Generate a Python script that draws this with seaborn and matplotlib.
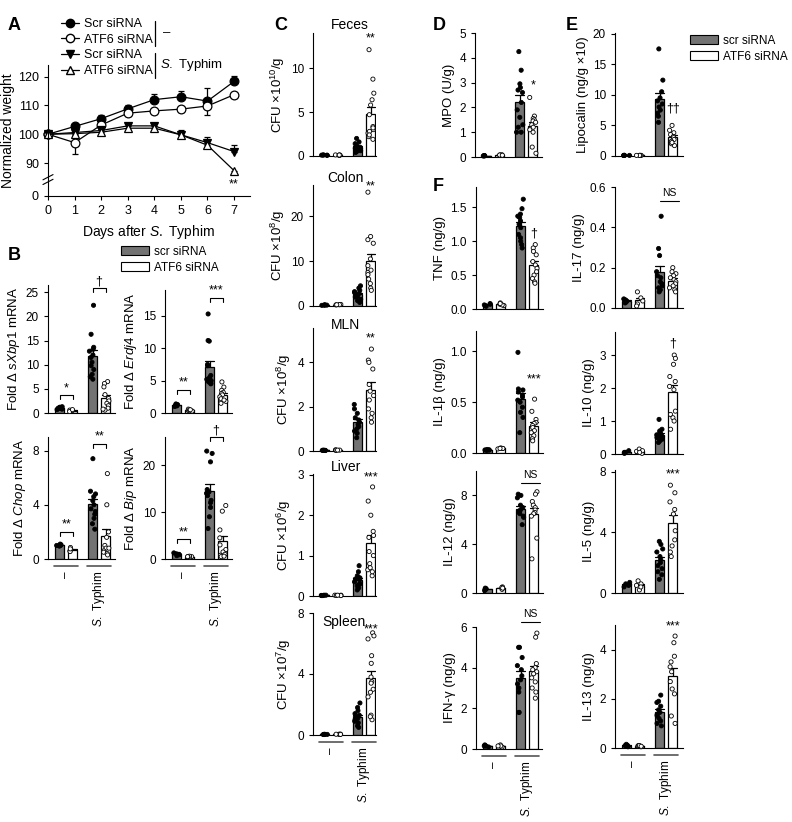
import numpy as np
import pandas as pd
import matplotlib
matplotlib.use('Agg')
import matplotlib.pyplot as plt
import seaborn as sns
from matplotlib.lines import Line2D
from matplotlib.patches import Patch
from matplotlib.transforms import blended_transform_factory

# ---------------- DATA ----------------
# Panel A: body weight over days
days = [0, 1, 2, 3, 4, 5, 6, 7]
scr_ctrl_w = [100, 102.7, 105.4, 108.8, 112.0, 113.0, 111.5, 118.3]
scr_ctrl_err = [0.5, 1.0, 1.2, 1.5, 2.0, 2.0, 4.5, 2.0]
atf6_ctrl_w = [100, 97.1, 103.2, 107.3, 108.1, 108.7, 109.8, 113.7]
atf6_ctrl_err = [0.5, 4.0, 1.5, 1.0, 1.0, 1.0, 3.3, 1.0]
scr_st_w = [100, 100.6, 101.3, 102.9, 102.9, 99.8, 97.1, 94.0]
scr_st_err = [0.5, 0.8, 0.8, 1.0, 1.0, 1.5, 2.0, 2.2]
atf6_st_w = [100, 100.2, 100.7, 102.1, 102.1, 99.8, 96.2, 87.4]
atf6_st_err = [0.5, 0.5, 0.5, 0.8, 0.8, 1.0, 1.0, 1.0]

# bar panels: [scr -, ATF6 -, scr S.Typhim, ATF6 S.Typhim]
sxbp1 = [[1.2, 0.9, 1.0, 1.1, 0.8, 1.3, 0.7], [0.4, 0.6, 0.5, 0.3, 0.7],
         [22.3, 16.3, 13.6, 13.2, 12.8, 12.0, 11.5, 10.5, 9.8, 9.0, 8.0, 7.5, 7.0],
         [6.5, 6.1, 5.4, 3.8, 3.0, 2.5, 2.0, 1.5, 1.0, 0.6, 0.8]]
erdj4 = [[1.3, 1.1, 1.2, 1.0, 1.4, 1.2], [0.4, 0.6, 0.5, 0.3, 0.5],
         [15.3, 11.2, 11.1, 7.3, 7.5, 5.5, 5.2, 5.0, 4.8, 4.6, 5.0, 5.8, 4.5],
         [4.8, 4.0, 3.5, 3.2, 3.0, 2.8, 2.5, 2.2, 1.8, 1.5, 2.0]]
chop = [[1.0, 1.05, 0.95, 1.1, 1.0], [0.6, 0.7, 0.85, 0.55, 0.75],
        [7.4, 5.0, 4.8, 4.6, 4.3, 4.0, 3.7, 3.5, 3.3, 3.0, 2.6, 2.2],
        [6.3, 4.0, 2.0, 1.6, 1.0, 0.8, 0.6, 0.5, 0.4, 0.3, 0.8]]
bip = [[1.0, 0.7, 1.3, 1.1, 0.9], [0.5, 0.4, 0.6, 0.5, 0.5],
       [23.0, 22.5, 20.7, 14.8, 14.3, 14.0, 13.5, 12.5, 11.0, 9.0, 6.5, 12.0],
       [11.4, 10.2, 6.2, 4.5, 3.0, 2.0, 1.5, 1.0, 0.8, 0.5, 0.6]]

feces = [[0.08, 0.12, 0.1, 0.09, 0.11], [0.1, 0.12, 0.08, 0.1, 0.11],
         [2.0, 1.6, 1.4, 1.2, 1.1, 1.0, 0.9, 0.8, 0.7, 0.6, 0.5, 0.4],
         [12.1, 8.75, 7.15, 6.4, 5.8, 4.7, 3.35, 3.0, 2.6, 2.2, 1.9, 3.2, 2.8, 2.4]]
colon = [[0.2, 0.25, 0.15, 0.2, 0.22], [0.3, 0.25, 0.35, 0.3, 0.28],
         [4.5, 4.0, 3.5, 3.2, 3.0, 2.8, 2.5, 2.2, 2.0, 1.5, 1.2, 0.8],
         [25.4, 15.5, 14.8, 14.0, 10.5, 9.0, 7.5, 8.0, 7.0, 6.0, 5.0, 4.0, 3.5]]
mln = [[0.03, 0.04, 0.02, 0.03, 0.03], [0.04, 0.05, 0.03, 0.04, 0.04],
       [2.1, 1.9, 1.7, 1.5, 1.4, 1.3, 1.2, 1.1, 1.0, 0.9, 0.8, 0.6],
       [4.6, 4.1, 4.0, 3.7, 3.0, 2.7, 2.5, 2.3, 1.9, 1.7, 1.5, 1.3]]
liver = [[0.01, 0.02, 0.015, 0.01, 0.02], [0.02, 0.015, 0.02, 0.01, 0.02],
         [0.75, 0.6, 0.5, 0.45, 0.42, 0.4, 0.35, 0.3, 0.28, 0.25, 0.2, 0.15],
         [2.7, 2.35, 2.0, 1.6, 1.5, 1.45, 1.1, 1.0, 0.8, 0.65, 0.5, 0.7, 0.6]]
spleen = [[0.03, 0.05, 0.04, 0.03, 0.04], [0.05, 0.04, 0.06, 0.05, 0.04],
          [2.1, 1.8, 1.6, 1.4, 1.3, 1.2, 1.1, 1.0, 0.9, 0.8, 0.6, 0.5],
          [6.7, 6.5, 6.3, 5.2, 4.7, 3.5, 3.8, 3.4, 3.0, 2.8, 1.3, 1.0, 2.5, 1.2]]

mpo = [[0.05, 0.06, 0.04, 0.05, 0.05], [0.08, 0.07, 0.09, 0.08, 0.07],
       [4.25, 3.5, 2.95, 2.8, 2.7, 2.6, 2.2, 1.9, 1.6, 1.3, 1.0, 1.2, 1.0],
       [2.4, 1.65, 1.55, 1.5, 1.45, 1.4, 1.3, 1.2, 1.1, 1.0, 0.4, 0.15]]
lipocalin = [[0.1, 0.12, 0.08, 0.1, 0.1], [0.1, 0.08, 0.12, 0.1, 0.1],
             [17.5, 12.4, 10.5, 9.5, 9.0, 8.5, 8.0, 7.5, 7.0, 6.5, 5.5],
             [5.0, 4.2, 3.8, 3.5, 3.2, 3.0, 2.7, 2.4, 2.0, 1.7, 2.2]]

tnf = [[0.05, 0.07, 0.06, 0.08, 0.04], [0.07, 0.05, 0.09, 0.06, 0.08],
       [1.62, 1.48, 1.40, 1.37, 1.35, 1.3, 1.25, 1.2, 1.1, 1.05, 1.0, 0.95, 0.9],
       [0.95, 0.9, 0.85, 0.8, 0.7, 0.65, 0.6, 0.55, 0.5, 0.45, 0.4, 0.38]]
il17 = [[0.035, 0.04, 0.03, 0.045, 0.025], [0.08, 0.05, 0.035, 0.02, 0.01],
        [0.455, 0.295, 0.26, 0.18, 0.16, 0.15, 0.13, 0.12, 0.11, 0.1, 0.09, 0.08],
        [0.2, 0.18, 0.17, 0.16, 0.15, 0.14, 0.13, 0.12, 0.11, 0.1, 0.09, 0.08]]
il1b = [[0.03, 0.035, 0.025, 0.03, 0.03], [0.045, 0.05, 0.04, 0.045, 0.045],
        [0.99, 0.63, 0.62, 0.6, 0.57, 0.55, 0.52, 0.5, 0.45, 0.4, 0.35, 0.2],
        [0.53, 0.41, 0.33, 0.3, 0.29, 0.27, 0.25, 0.22, 0.2, 0.17, 0.14, 0.12]]
il10 = [[0.05, 0.1, 0.02, 0.04, 0.05], [0.08, 0.15, 0.02, 0.1, 0.05],
        [1.05, 0.75, 0.7, 0.65, 0.62, 0.58, 0.55, 0.5, 0.48, 0.45, 0.4, 0.35],
        [3.0, 2.9, 2.72, 2.35, 2.2, 2.05, 1.95, 1.3, 1.2, 1.1, 1.0, 0.75]]
il12 = [[0.3, 0.2, 0.4, 0.3, 0.35], [0.4, 0.3, 0.5, 0.45, 0.4],
        [8.1, 8.0, 7.8, 7.2, 7.0, 6.8, 6.7, 6.6, 6.5, 6.3, 6.2, 5.6],
        [8.3, 8.1, 7.5, 7.2, 7.0, 6.8, 6.6, 6.5, 6.3, 4.5, 2.8]]
il5 = [[0.55, 0.4, 0.7, 0.6, 0.5], [0.5, 0.2, 0.8, 0.6, 0.4],
       [3.4, 3.2, 2.9, 2.7, 2.4, 2.2, 2.0, 1.8, 1.6, 1.4, 1.2, 0.9],
       [7.1, 6.6, 6.0, 5.5, 5.2, 4.1, 3.5, 3.1, 2.7, 2.4]]
ifng = [[0.15, 0.1, 0.2, 0.15, 0.15], [0.15, 0.1, 0.2, 0.15, 0.15],
        [5.0, 5.0, 4.5, 4.1, 3.9, 3.6, 3.4, 3.2, 3.0, 2.8, 1.8, 1.8],
        [5.7, 5.5, 4.2, 4.0, 3.9, 3.8, 3.7, 3.5, 3.3, 3.0, 2.8, 2.5]]
il13 = [[0.1, 0.15, 0.05, 0.1, 0.1], [0.08, 0.1, 0.05, 0.1, 0.07],
        [2.15, 1.9, 1.85, 1.7, 1.55, 1.45, 1.35, 1.3, 1.2, 1.1, 1.0, 0.9],
        [4.55, 4.28, 3.73, 3.5, 3.3, 3.1, 2.7, 2.4, 2.2, 1.3, 1.0]]

groups = ['–', 'S. Typhim']
sirna = ['scr siRNA', 'ATF6 siRNA']
bar_colors = ['#737373', 'white']

# ---------------- STYLE ----------------
sns.set_style('ticks')
plt.rcParams['font.family'] = ['Liberation Sans', 'DejaVu Sans']
plt.rcParams['mathtext.fontset'] = 'custom'
plt.rcParams['mathtext.rm'] = 'Liberation Sans'
plt.rcParams['mathtext.it'] = 'Liberation Sans:italic'
plt.rcParams['mathtext.bf'] = 'Liberation Sans:bold'
plt.rcParams['axes.edgecolor'] = 'black'
plt.rcParams['axes.linewidth'] = 0.8
plt.rcParams['text.color'] = 'black'
plt.rcParams['axes.labelcolor'] = 'black'
plt.rcParams['xtick.color'] = 'black'
plt.rcParams['ytick.color'] = 'black'
plt.rcParams['ytick.major.size'] = 3
plt.rcParams['ytick.major.width'] = 0.8
plt.rcParams['xtick.major.size'] = 3
plt.rcParams['xtick.major.width'] = 0.8
plt.rcParams['ytick.labelsize'] = 8.5
plt.rcParams['xtick.labelsize'] = 8.5
plt.rcParams['axes.labelsize'] = 9.5

np.random.seed(3)
W, H = 792, 822
fig = plt.figure(figsize=(W / 100, H / 100), dpi=100)
ST = r'$\mathit{S.}$ Typhim'


def add_ax(l, t, r, b):
    return fig.add_axes([l / W, 1 - b / H, (r - l) / W, (b - t) / H])


def to_long(vals):
    rows = []
    for i, v in enumerate(vals):
        for y in v:
            rows.append((groups[i // 2], sirna[i % 2], y))
    return pd.DataFrame(rows, columns=['group', 'siRNA', 'value'])


def bar_panel(box, vals, ylim, yticks, ylabel):
    ax = add_ax(*box)
    df = to_long(vals)
    sns.barplot(data=df, x='group', y='value', hue='siRNA', order=groups, hue_order=sirna,
                palette=bar_colors, edgecolor='black', linewidth=0.9, width=0.8, gap=0.32,
                errorbar='se', capsize=0.5, err_kws={'linewidth': 0.9, 'color': 'black'},
                legend=False, ax=ax)
    sns.stripplot(data=df, x='group', y='value', hue='siRNA', order=groups, hue_order=sirna,
                  palette=['black', 'white'], edgecolor='black', linewidth=0.6, size=3.0,
                  dodge=True, jitter=0.2, legend=False, ax=ax)
    for p in ax.patches:
        p.set_zorder(2)
    for ln in ax.lines:
        ln.set_zorder(1.5)
    for c in ax.collections:
        c.set_zorder(3)
        c.set_clip_on(False)
    ax.set_xlim(-0.55, -0.55 + (box[2] - box[0]) / 33)
    ax.set_ylim(*ylim)
    ax.set_yticks(yticks)
    ax.set_xticks([])
    ax.set_xlabel('')
    ax.set_ylabel(ylabel, labelpad=3)
    sns.despine(ax=ax)
    return ax


def px(ax, n):
    y0, y1 = ax.get_ylim()
    return n * (y1 - y0) / ax.get_window_extent().height


def bracket(ax, x1, x2, y, label, fs=9):
    d = px(ax, 4)
    ax.plot([x1, x1, x2, x2], [y - d, y, y, y - d], color='black', lw=0.8, clip_on=False)
    ax.text((x1 + x2) / 2, y + px(ax, 1), label, ha='center', va='bottom', fontsize=fs)


def star(ax, y, label, fs=9):
    ax.text(1.2, y, label, ha='center', va='center', fontsize=fs)


def ns_line(ax, y):
    ax.plot([0.82, 1.38], [y, y], color='black', lw=0.8, clip_on=False)
    ax.text(1.1, y + px(ax, 3), 'NS', ha='center', va='bottom', fontsize=7.5)


def group_labels(ax):
    trans = blended_transform_factory(ax.transData, ax.transAxes)
    hpx = ax.get_window_extent().height
    for xc, lab in zip([0, 1], ['–', ST]):
        ax.plot([xc - 0.37, xc + 0.37], [-7 / hpx, -7 / hpx], color='#555555', lw=1.2,
                transform=trans, clip_on=False)
        ax.text(xc, -12 / hpx, lab, rotation=90, ha='center', va='top', transform=trans,
                fontsize=8.5)


def letter(x, y, s):
    fig.text(x / W, 1 - y / H, s, fontsize=13, fontweight='bold', ha='left', va='center')


def ftext(x, y, s, **kw):
    fig.text(x / W, 1 - y / H, s, **kw)


# ---------------- PANEL A ----------------
axA = add_ax(48, 65, 250, 196)
rows = []
series = ['scr_ctrl', 'atf6_ctrl', 'scr_st', 'atf6_st']
for name, vals in zip(series, [scr_ctrl_w, atf6_ctrl_w, scr_st_w, atf6_st_w]):
    for d, v in zip(days, vals):
        rows.append((name, d, v))
dfA = pd.DataFrame(rows, columns=['series', 'day', 'weight'])

errs = [scr_ctrl_err, atf6_ctrl_err, scr_st_err, atf6_st_err]
vals_all = [scr_ctrl_w, atf6_ctrl_w, scr_st_w, atf6_st_w]
up = [True, False, True, False]
for v, e, u in zip(vals_all, errs, up):
    e = np.array(e)
    z = np.zeros_like(e)
    axA.errorbar(days, v, yerr=[z, e] if u else [e, z], fmt='none', ecolor='black',
                 elinewidth=0.9, capsize=2.5, capthick=0.9, zorder=1.5)

sns.lineplot(data=dfA, x='day', y='weight', hue='series', style='series', hue_order=series,
             style_order=series, palette=['black'] * 4, markers=['o', 'o', 'v', '^'],
             dashes=False, markersize=6.3, linewidth=0.9, legend=False, estimator=None, ax=axA)
mfc = ['black', 'white', 'black', 'white']
for ln, fc in zip(axA.lines[-4:], mfc):
    ln.set_markerfacecolor(fc)
    ln.set_markeredgecolor('black')
    ln.set_markeredgewidth(0.9)
    ln.set_zorder(2.5)
    ln.set_clip_on(False)

axA.set_xlim(0, 7.6)
axA.set_ylim(78.6, 124)
axA.set_xticks(days)
axA.set_yticks([78.6, 90, 100, 110, 120])
axA.set_yticklabels(['0', '90', '100', '110', '120'])
axA.set_xlabel('Days after ' + ST, fontsize=10, labelpad=4)
axA.set_ylabel('Normalized weight', fontsize=10, labelpad=2)
axA.tick_params(labelsize=9)
sns.despine(ax=axA)
axA.text(7, 82.6, '**', ha='center', va='center', fontsize=9)
fb = (84.3 - 78.6) / (124 - 78.6)
for off in (-0.018, 0.018):
    axA.plot([-0.025, 0.025], [fb + off - 0.02, fb + off + 0.02], color='black', lw=0.8,
             transform=axA.transAxes, clip_on=False)

handlesA = [Line2D([0], [0], color='black', lw=0.9, marker=m, mfc=fc, mec='black', ms=6)
            for m, fc in zip(['o', 'o', 'v', '^'], mfc)]
fig.legend(handlesA, ['Scr siRNA', 'ATF6 siRNA', 'Scr siRNA', 'ATF6 siRNA'],
           loc='upper left', bbox_to_anchor=(61 / W, 1 - 18 / H), frameon=False, fontsize=9,
           handlelength=1.4, labelspacing=0.3, borderpad=0, borderaxespad=0, handletextpad=0.45)
fig.add_artist(Line2D([155 / W, 155 / W], [1 - 21 / H, 1 - 46 / H], color='black', lw=0.9))
fig.add_artist(Line2D([155 / W, 155 / W], [1 - 53 / H, 1 - 78 / H], color='black', lw=0.9))
ftext(163, 33, '–', fontsize=9.5, va='center')
ftext(160, 65, ST, fontsize=9.5, va='center')
letter(8, 26, 'A')

# ---------------- PANEL B ----------------
letter(8, 255, 'B')
fig.legend([Patch(fc=bar_colors[0], ec='black', lw=0.8), Patch(fc='white', ec='black', lw=0.8)],
           sirna, loc='upper left', bbox_to_anchor=(121 / W, 1 - 246 / H), frameon=False,
           fontsize=8.5, handlelength=2.4, handleheight=0.8, labelspacing=0.3, borderpad=0,
           borderaxespad=0, handletextpad=0.4)

ax = bar_panel((48, 285, 115, 413), sxbp1, (0, 26.5), [0, 5, 10, 15, 20, 25],
               r'Fold Δ $\mathit{sXbp1}$ mRNA')
bracket(ax, -0.2, 0.2, 3.7, '*')
bracket(ax, 0.8, 1.2, 25.8, '†')
ax = bar_panel((165, 290, 232, 413), erdj4, (0, 19), [0, 5, 10, 15],
               r'Fold Δ $\mathit{Erdj4}$ mRNA')
bracket(ax, -0.2, 0.2, 3.6, '**')
bracket(ax, 0.8, 1.2, 17.8, '***')
ax = bar_panel((48, 437, 115, 559), chop, (0, 9), [0, 4, 8], r'Fold Δ $\mathit{Chop}$ mRNA')
bracket(ax, -0.2, 0.2, 2.0, '**')
bracket(ax, 0.8, 1.2, 8.5, '**')
group_labels(ax)
ax = bar_panel((165, 437, 232, 559), bip, (0, 26), [0, 10, 20], r'Fold Δ $\mathit{Bip}$ mRNA')
bracket(ax, -0.2, 0.2, 4.2, '**')
bracket(ax, 0.8, 1.2, 25.9, '†')
group_labels(ax)

# ---------------- PANEL C ----------------
letter(274, 26, 'C')
ax = bar_panel((313, 33, 376, 156), feces, (0, 14), [0, 5, 10], r'CFU ×10$^{10}$/g')
star(ax, 13.4, '**')
ftext(350, 25, 'Feces', fontsize=10, ha='center', va='center')
ax = bar_panel((313, 185, 376, 306), colon, (0, 27), [0, 10, 20], r'CFU ×10$^{8}$/g')
star(ax, 26.6, '**')
ftext(345, 178, 'Colon', fontsize=10, ha='center', va='center')
ax = bar_panel((313, 328, 376, 451), mln, (0, 5.55), [0, 2, 4], r'CFU ×10$^{8}$/g')
star(ax, 5.1, '**')
ftext(346, 325, 'MLN', fontsize=10, ha='center', va='center')
ax = bar_panel((313, 474, 376, 596), liver, (0, 3.02), [0, 1, 2, 3], r'CFU ×10$^{6}$/g')
star(ax, 2.94, '***')
ftext(346, 467, 'Liver', fontsize=10, ha='center', va='center')
ax = bar_panel((313, 613, 376, 735), spleen, (0, 8), [0, 4, 8], r'CFU ×10$^{7}$/g')
star(ax, 6.95, '***')
ftext(344, 622, 'Spleen', fontsize=10, ha='center', va='center')
group_labels(ax)

# ---------------- PANELS D, E ----------------
letter(433, 26, 'D')
ax = bar_panel((475, 33, 542, 157), mpo, (0, 5), [0, 1, 2, 3, 4, 5], 'MPO (U/g)')
star(ax, 2.9, '*')
letter(566, 26, 'E')
ax = bar_panel((615, 33, 683, 156), lipocalin, (0, 20.1), [0, 5, 10, 15, 20],
               'Lipocalin (ng/g ×10)')
star(ax, 7.8, '††')
fig.legend([Patch(fc=bar_colors[0], ec='black', lw=0.8), Patch(fc='white', ec='black', lw=0.8)],
           sirna, loc='upper left', bbox_to_anchor=(690 / W, 1 - 35 / H), frameon=False,
           fontsize=8.5, handlelength=2.4, handleheight=0.8, labelspacing=0.3, borderpad=0,
           borderaxespad=0, handletextpad=0.4)

# ---------------- PANEL F ----------------
letter(433, 186, 'F')
ax = bar_panel((476, 187, 543, 309), tnf, (0, 1.8), [0, 0.5, 1.0, 1.5], 'TNF (ng/g)')
star(ax, 1.12, '†')
ax = bar_panel((615, 187, 683, 308), il17, (0, 0.6), [0, 0.2, 0.4, 0.6], 'IL-17 (ng/g)')
ns_line(ax, 0.53)
ax = bar_panel((476, 331, 543, 453), il1b, (0, 1.2), [0, 0.5, 1.0], 'IL-1β (ng/g)')
star(ax, 0.72, '***')
ax = bar_panel((615, 332, 683, 454), il10, (0, 3.7), [0, 1, 2, 3], 'IL-10 (ng/g)')
star(ax, 3.36, '†')
ax = bar_panel((476, 471, 543, 593), il12, (0, 10), [0, 4, 8], 'IL-12 (ng/g)')
ns_line(ax, 9.05)
ax = bar_panel((615, 470, 683, 593), il5, (0, 8.1), [0, 4, 8], 'IL-5 (ng/g)')
star(ax, 7.8, '***')
ax = bar_panel((476, 627, 542, 749), ifng, (0, 6), [0, 2, 4, 6], 'IFN-γ (ng/g)')
ns_line(ax, 6.26)
group_labels(ax)
ax = bar_panel((615, 625, 683, 748), il13, (0, 5), [0, 2, 4], 'IL-13 (ng/g)')
star(ax, 4.96, '***')
group_labels(ax)

fig.savefig('out.png', dpi=100)
